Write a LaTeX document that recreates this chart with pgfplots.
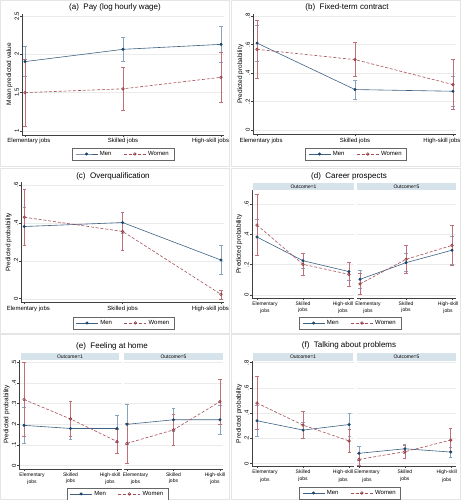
\documentclass[border=0pt]{standalone}
\usepackage{pgfplots}
\pgfplotsset{compat=1.18}
\usepackage{fontspec}
\setmainfont{Liberation Sans}
\definecolor{mennavy}{HTML}{1A476F}
\definecolor{menline}{HTML}{3E6183}
\definecolor{menci}{HTML}{87A3BF}
\definecolor{wred}{HTML}{90353B}
\definecolor{wline}{HTML}{A8505A}
\definecolor{wci}{HTML}{C0707A}
\definecolor{stripc}{HTML}{D7E3EA}
\pgfplotsset{
  stata/.style={
    scale only axis,
    axis x line*=bottom, axis y line*=left,
    axis line style={draw=black!75, line width=0.45pt},
    every tick/.style={draw=black!75, line width=0.45pt},
    major tick length=2pt,
    tick align=outside,
    ymajorgrids, grid style={draw=black!8, line width=0.4pt},
    xtick={1,2,3},
    tick label style={font=\fontsize{6}{7}\selectfont, text=black},
    yticklabel style={rotate=90, anchor=south, inner sep=1pt},
    xticklabel style={inner sep=1.5pt},
    ylabel style={font=\fontsize{6.5}{7}\selectfont, inner sep=1pt},
    /pgf/number format/assume math mode=true,
    clip=false,
    legend style={draw=black!60, line width=0.4pt, font=\fontsize{6}{7}\selectfont, legend columns=2, inner xsep=3pt, inner ysep=1pt, /tikz/every even column/.append style={column sep=10pt}},
    legend cell align=left,
    legend image code/.code={\draw[mark repeat=2,mark phase=2] plot coordinates {(0pt,0pt) (11pt,0pt) (22pt,0pt)};},
  },
  facet/.style={
    stata,
    xticklabel style={font=\fontsize{5}{5.5}\selectfont},
  },
  rightfacet/.style={
    facet,
    y axis line style={draw=none},
    ytick style={draw=none},
    yticklabels={,,,,,,,},
  },
  men/.style={color=menline, line width=0.6pt, mark=*, mark size=1.2pt,
    mark options={fill=mennavy, draw=mennavy, solid},
    error bars/y dir=both, error bars/y explicit,
    error bars/error bar style={color=menci, line width=0.6pt, solid},
    error bars/error mark options={rotate=90, mark size=1.6pt, color=menci, line width=0.6pt}},
  women/.style={color=wline, line width=0.6pt, dash pattern=on 3pt off 1.8pt, mark=o, mark size=1.3pt,
    mark options={fill=white, draw=wred, solid},
    error bars/y dir=both, error bars/y explicit,
    error bars/error bar style={color=wci, line width=0.6pt, solid},
    error bars/error mark options={rotate=90, mark size=1.6pt, color=wci, line width=0.6pt, solid}},
}
\newcommand{\flab}[2]{\ifcase\ticknum\hspace*{#1}\shortstack{Elementary\\jobs}\or\shortstack{Skilled\\jobs}\or\hspace*{#2}\shortstack{High-skill\\jobs}\fi}
\newcommand{\plab}[2]{\ifcase\ticknum\hspace*{#1}Elementary jobs\or Skilled jobs\or\hspace*{#2}High-skill jobs\fi}
\begin{document}
\begin{tikzpicture}
\useasboundingbox (0pt,0pt) rectangle (461pt,500pt);
\fill[white] (0pt,0pt) rectangle (461pt,500pt);
% panel frames
\draw[black!10, line width=0.5pt] (0.5pt,333.5pt) rectangle (229.5pt,499.5pt);
\draw[black!10, line width=0.5pt] (231.5pt,333.5pt) rectangle (460.5pt,499.5pt);
\draw[black!10, line width=0.5pt] (0.5pt,167pt) rectangle (229.5pt,332pt);
\draw[black!10, line width=0.5pt] (231.5pt,167pt) rectangle (460.5pt,332pt);
\draw[black!10, line width=0.5pt] (0.5pt,0.5pt) rectangle (229.5pt,165.5pt);
\draw[black!10, line width=0.5pt] (231.5pt,0.5pt) rectangle (460.5pt,165.5pt);
% titles
\node[font=\fontsize{8}{9}\selectfont] at (115pt,493pt) {(a)\ \ Pay (log hourly wage)};
\node[font=\fontsize{8}{9}\selectfont] at (347pt,493pt) {(b)\ \ Fixed-term contract};
\node[font=\fontsize{8}{9}\selectfont] at (113pt,324pt) {(c)\ \ Overqualification};
\node[font=\fontsize{8}{9}\selectfont] at (349pt,324pt) {(d)\ \ Career prospects};
\node[font=\fontsize{8}{9}\selectfont] at (112pt,154pt) {(e)\ \ Feeling at home};
\node[font=\fontsize{8}{9}\selectfont] at (349pt,155pt) {(f)\ \ Talking about problems};
% strips
\fill[stripc] (253pt,310pt) rectangle (354pt,316.5pt);
\fill[stripc] (357pt,310pt) rectangle (456pt,316.5pt);
\node[font=\fontsize{5}{5.5}\selectfont, inner sep=0pt] at (303.5pt,313.3pt) {Outcome=1};
\node[font=\fontsize{5}{5.5}\selectfont, inner sep=0pt] at (406.5pt,313.3pt) {Outcome=5};
\fill[stripc] (21pt,140pt) rectangle (119pt,147pt);
\fill[stripc] (124pt,140pt) rectangle (223pt,147pt);
\node[font=\fontsize{5}{5.5}\selectfont, inner sep=0pt] at (70pt,143.5pt) {Outcome=1};
\node[font=\fontsize{5}{5.5}\selectfont, inner sep=0pt] at (173.5pt,143.5pt) {Outcome=5};
\fill[stripc] (253pt,139pt) rectangle (353pt,147pt);
\fill[stripc] (357pt,139pt) rectangle (456pt,147pt);
\node[font=\fontsize{5}{5.5}\selectfont, inner sep=0pt] at (303pt,143pt) {Outcome=1};
\node[font=\fontsize{5}{5.5}\selectfont, inner sep=0pt] at (406.5pt,143pt) {Outcome=5};

% (a)
\begin{axis}[stata, at={(22.06pt,365.2pt)}, anchor=south west, width=201.9pt, height=121.1pt,
  xmin=0.97, xmax=3.03, ymin=0.95, ymax=2.53,
  ytick={1,1.5,2,2.5}, yticklabels={1,1.5,2,2.5},
  xticklabel={\plab{8pt}{-21pt}},
  ylabel={Mean predicted value},
  legend style={at={(0.5,-0.109)}, anchor=north}]
\addplot[men] coordinates {(1,1.905) +- (0,0.195) (2,2.065) +- (0,0.16) (3,2.13) +- (0,0.24)};
\addlegendentry{Men}
\addplot[women] coordinates {(1,1.50) +- (0,0.44) (2,1.55) +- (0,0.28) (3,1.70) +- (0,0.32)};
\addlegendentry{Women}
\end{axis}

% (b)
\begin{axis}[stata, at={(253.1pt,365.7pt)}, anchor=south west, width=202.8pt, height=120.4pt,
  xmin=0.96, xmax=3.03, ymin=-0.03, ymax=0.815,
  ytick={0,0.2,0.4,0.6,0.8}, yticklabels={0,.2,.4,.6,.8},
  xticklabel={\plab{8pt}{-22pt}},
  ylabel={Predicted probability},
  legend style={at={(0.507,-0.114)}, anchor=north}]
\addplot[men] coordinates {(1,0.61) +- (0,0.125) (2,0.284) +- (0,0.065) (3,0.272) +- (0,0.105)};
\addlegendentry{Men}
\addplot[women] coordinates {(1,0.566) +- (0,0.205) (2,0.494) +- (0,0.12) (3,0.319) +- (0,0.175)};
\addlegendentry{Women}
\end{axis}

% (c)
\begin{axis}[stata, at={(21.4pt,197.5pt)}, anchor=south west, width=202.5pt, height=120.3pt,
  xmin=0.97, xmax=3.03, ymin=-0.02, ymax=0.615,
  ytick={0,0.2,0.4,0.6}, yticklabels={0,.2,.4,.6},
  xticklabel={\plab{8pt}{-21pt}},
  ylabel={Predicted probability},
  legend style={at={(0.504,-0.12)}, anchor=north}]
\addplot[men] coordinates {(1,0.381) +- (0,0.1) (2,0.402) +- (0,0.055) (3,0.204) +- (0,0.076)};
\addlegendentry{Men}
\addplot[women] coordinates {(1,0.43) +- (0,0.15) (2,0.355) +- (0,0.1) (3,0.023) +- (0,0.024)};
\addlegendentry{Women}
\end{axis}

% (d) left
\begin{axis}[facet, at={(251.9pt,202pt)}, anchor=south west, width=102.1pt, height=108pt,
  xmin=0.89, xmax=3.11, ymin=-0.02, ymax=0.692,
  ytick={0,0.2,0.4,0.6}, yticklabels={0,.2,.4,.6},
  xticklabel={\flab{16pt}{-12pt}},
  ylabel={Predicted probability}]
\addplot[men] coordinates {(1,0.382) +- (0,0.12) (2,0.226) +- (0,0.05) (3,0.154) +- (0,0.06)};
\addplot[women] coordinates {(1,0.461) +- (0,0.2) (2,0.202) +- (0,0.07) (3,0.136) +- (0,0.08)};
\end{axis}
% (d) right
\begin{axis}[rightfacet, at={(356.8pt,202pt)}, anchor=south west, width=99.4pt, height=108pt,
  xmin=0.93, xmax=3.09, ymin=-0.02, ymax=0.692,
  ytick={0,0.2,0.4,0.6},
  xticklabel={\flab{16pt}{-8pt}},
  legend style={at={(-0.068,-0.176)}, anchor=north}]
\addplot[men] coordinates {(1,0.103) +- (0,0.06) (2,0.213) +- (0,0.06) (3,0.295) +- (0,0.09)};
\addlegendentry{Men}
\addplot[women] coordinates {(1,0.073) +- (0,0.07) (2,0.235) +- (0,0.09) (3,0.327) +- (0,0.13)};
\addlegendentry{Women}
\end{axis}

% (e) left
\begin{axis}[facet, at={(19.35pt,31.2pt)}, anchor=south west, width=102.3pt, height=108.8pt,
  xmin=0.9, xmax=3.1, ymin=-0.015, ymax=0.511,
  ytick={0,0.1,0.2,0.3,0.4,0.5}, yticklabels={0,.1,.2,.3,.4,.5},
  xticklabel={\flab{16pt}{-14pt}},
  ylabel={Predicted probability}]
\addplot[men] coordinates {(1,0.195) +- (0,0.085) (2,0.18) +- (0,0.05) (3,0.18) +- (0,0.065)};
\addplot[women] coordinates {(1,0.32) +- (0,0.18) (2,0.226) +- (0,0.085) (3,0.117) +- (0,0.057)};
\end{axis}
% (e) right
\begin{axis}[rightfacet, at={(123.7pt,31.2pt)}, anchor=south west, width=99.5pt, height=108.8pt,
  xmin=0.93, xmax=3.07, ymin=-0.015, ymax=0.511,
  ytick={0,0.1,0.2,0.3,0.4,0.5},
  xticklabel={\flab{17pt}{-10pt}},
  legend style={at={(-0.062,-0.176)}, anchor=north}]
\addplot[men] coordinates {(1,0.2) +- (0,0.095) (2,0.222) +- (0,0.055) (3,0.222) +- (0,0.07)};
\addlegendentry{Men}
\addplot[women] coordinates {(1,0.108) +- (0,0.098) (2,0.173) +- (0,0.075) (3,0.31) +- (0,0.11)};
\addlegendentry{Women}
\end{axis}

% (f) left
\begin{axis}[facet, at={(251.9pt,33.8pt)}, anchor=south west, width=102.3pt, height=105.2pt,
  xmin=0.89, xmax=3.11, ymin=-0.02, ymax=0.813,
  ytick={0,0.2,0.4,0.6,0.8}, yticklabels={0,.2,.4,.6,.8},
  xticklabel={\flab{16pt}{-12pt}},
  ylabel={Predicted probability}]
\addplot[men] coordinates {(1,0.34) +- (0,0.12) (2,0.266) +- (0,0.065) (3,0.31) +- (0,0.09)};
\addplot[women] coordinates {(1,0.48) +- (0,0.21) (2,0.305) +- (0,0.108) (3,0.18) +- (0,0.09)};
\end{axis}
% (f) right
\begin{axis}[rightfacet, at={(356.7pt,33.8pt)}, anchor=south west, width=99.1pt, height=105.2pt,
  xmin=0.95, xmax=3.11, ymin=-0.02, ymax=0.813,
  ytick={0,0.2,0.4,0.6,0.8},
  xticklabel={\flab{16pt}{-8pt}},
  legend style={at={(-0.068,-0.198)}, anchor=north}]
\addplot[men] coordinates {(1,0.082) +- (0,0.058) (2,0.118) +- (0,0.035) (3,0.092) +- (0,0.04)};
\addlegendentry{Men}
\addplot[women] coordinates {(1,0.034) +- (0,0.045) (2,0.095) +- (0,0.053) (3,0.187) +- (0,0.09)};
\addlegendentry{Women}
\end{axis}
\end{tikzpicture}
\end{document}
